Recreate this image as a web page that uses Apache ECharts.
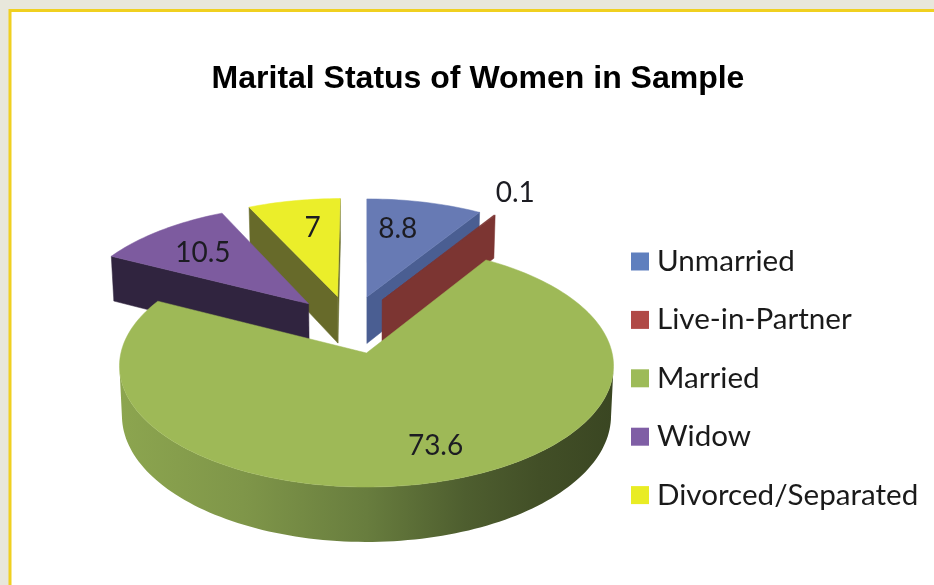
<!DOCTYPE html>
<html>
<head>
<meta charset="utf-8">
<style>html,body{margin:0;padding:0;background:#e8e7db}#c{width:934px;height:585px}</style>
<script src="https://cdn.jsdelivr.net/npm/echarts@6/dist/echarts.min.js"></script>
</head>
<body>
<div id="c"></div>
<script>
// ---- data ----
const categories = ['Unmarried', 'Live-in-Partner', 'Married', 'Widow', 'Divorced/Separated'];
const values = [8.8, 0.1, 73.6, 10.5, 7];
const titleText = 'Marital Status of Women in Sample';

// ---- styles ----
const legendColors = ['#5f7fbe', '#b04a47', '#9dbb58', '#7f5ea5', '#e9ec24'];
const topColors = ['#677ab4', '#7c3532', '#9eb957', '#7d5b9f', '#ebee2a'];
const wallColors = ['#4a5e92', '#7c3532', '#5f7338', '#30243f', '#676a2a'];
const paintOrder = [2, 3, 4, 3, 2];

// ---- layout: perspective pie model (world unit = pie radius) ----
const ox = 366.5, oy = 353;         // screen position of the world origin
const A = 245.6, B = 119.7, k = 0.107; // projection of the ground plane
const depth = 49, bottomScale = 0.99;  // pie thickness
const explode = 0.256;
const labelRadius = [0.69, 1.27, 0.76, 0.69, 0.69];
const labelAngleShift = [-4, -1.6, -4.5, -0.6, 2.3];
const RAD = Math.PI / 180;

const total = values.reduce((a, b) => a + b, 0);
const marriedIndex = categories.indexOf('Married');

function sliceAngles(i) {
  let s = 0;
  for (let j = 0; j < i; j++) s += values[j];
  return [s / total * 360, (s + values[i]) / total * 360];
}
function dir(t) { return [Math.sin(t * RAD), Math.cos(t * RAD)]; }
function mid(i) { const a = sliceAngles(i); return (a[0] + a[1]) / 2; }
function project(u, v, low) {
  const d = 1 + k * v;
  const s = low ? bottomScale : 1;
  return [ox + A * u * s / d, oy - B * v / d + (low ? depth / d : 0)];
}
function apexOf(i) {
  const a = dir(mid(i)), m = dir(mid(marriedIndex));
  return [explode * (a[0] - m[0]), explode * (a[1] - m[1])];
}
function rim(i, t, low) {
  const p = apexOf(i), d = dir(t);
  return project(p[0] + d[0], p[1] + d[1], low);
}

const marriedWallFill = {
  type: 'linear', x: 120, y: 0, x2: 613, y2: 0, global: true,
  colorStops: [
    { offset: 0, color: '#8ca54f' }, { offset: 0.25, color: '#7f9649' },
    { offset: 0.5, color: '#687d3e' }, { offset: 0.7, color: '#4e5e2f' },
    { offset: 0.85, color: '#424f27' }, { offset: 1, color: '#3a4622' }
  ]
};

function renderSlice(i, value) {
  const t0 = sliceAngles(i)[0];
  const t1 = t0 + value / total * 360;
  const p = apexOf(i);
  const apexTop = project(p[0], p[1], false);
  const apexLow = project(p[0], p[1], true);
  const steps = Math.max(2, Math.ceil((t1 - t0) / 1.5));
  const arc = [];
  for (let n = 0; n <= steps; n++) arc.push(t0 + (t1 - t0) * n / steps);
  const children = [];
  const wall = wallColors[i];

  // radial walls, visible only when they face the viewer
  const r0 = rim(i, t0, false), r1 = rim(i, t1, false);
  if (r0[0] - apexTop[0] < -0.5) {
    children.push({ type: 'polygon', shape: { points: [apexTop, r0, rim(i, t0, true), apexLow] },
      style: { fill: wall, stroke: wall, lineWidth: 0.5 } });
  }
  if (r1[0] - apexTop[0] > 0.5) {
    children.push({ type: 'polygon', shape: { points: [apexTop, r1, rim(i, t1, true), apexLow] },
      style: { fill: wall, stroke: wall, lineWidth: 0.5 } });
  }
  // outer wall: the part of the rim that moves right-to-left going clockwise
  const front = arc.filter(function (t) {
    const a = rim(i, t - 0.2, false), b = rim(i, t + 0.2, false);
    return b[0] < a[0];
  });
  if (front.length > 1) {
    const pts = front.map(t => rim(i, t, false)).concat(front.slice().reverse().map(t => rim(i, t, true)));
    children.push({ type: 'polygon', shape: { points: pts },
      style: { fill: i === marriedIndex ? marriedWallFill : wall } });
  }
  // top face
  const topPts = [apexTop].concat(arc.map(t => rim(i, t, false)));
  children.push({ type: 'polygon', shape: { points: topPts },
    style: { fill: topColors[i], stroke: topColors[i], lineWidth: 0.5 } });
  // value label
  const la = dir(mid(i) + labelAngleShift[i]);
  const lp = project(p[0] + la[0] * labelRadius[i], p[1] + la[1] * labelRadius[i], false);
  children.push({ type: 'text', z2: 100, style: {
    x: lp[0], y: lp[1], text: String(value), align: 'center', verticalAlign: 'middle',
    fill: '#1c1c22', font: '28px Lato' } });
  return { type: 'group', children: children };
}

const chart = echarts.init(document.getElementById('c'), null, { renderer: 'canvas' });
chart.setOption({
  animation: false,
  backgroundColor: '#e8e7db',
  title: {
    text: titleText, left: 473, top: 58, textAlign: 'center',
    textStyle: { fontFamily: 'Liberation Sans', fontWeight: 'bold', fontSize: 32, color: '#000' }
  },
  legend: {
    orient: 'vertical', left: 626, top: 239.5, itemWidth: 18, itemHeight: 18, itemGap: 24.4,
    icon: 'rect', data: categories,
    textStyle: { fontFamily: 'Lato', fontSize: 29.6, color: '#1a1a1a', lineHeight: 34, padding: [0, 0, 0, 3] }
  },
  graphic: [{
    type: 'rect', z: -10, silent: true,
    shape: { x: 10, y: 10.5, width: 1000, height: 1000 },
    style: { fill: '#ffffff', stroke: '#f0d020', lineWidth: 3 }
  }],
  series: categories.map(function (name, i) {
    return {
      type: 'custom', name: name, coordinateSystem: 'none', z: paintOrder[i],
      itemStyle: { color: legendColors[i] }, silent: true,
      data: [values[i]],
      renderItem: function (params, api) { return renderSlice(i, api.value(0)); }
    };
  })
});
</script>
</body>
</html>
